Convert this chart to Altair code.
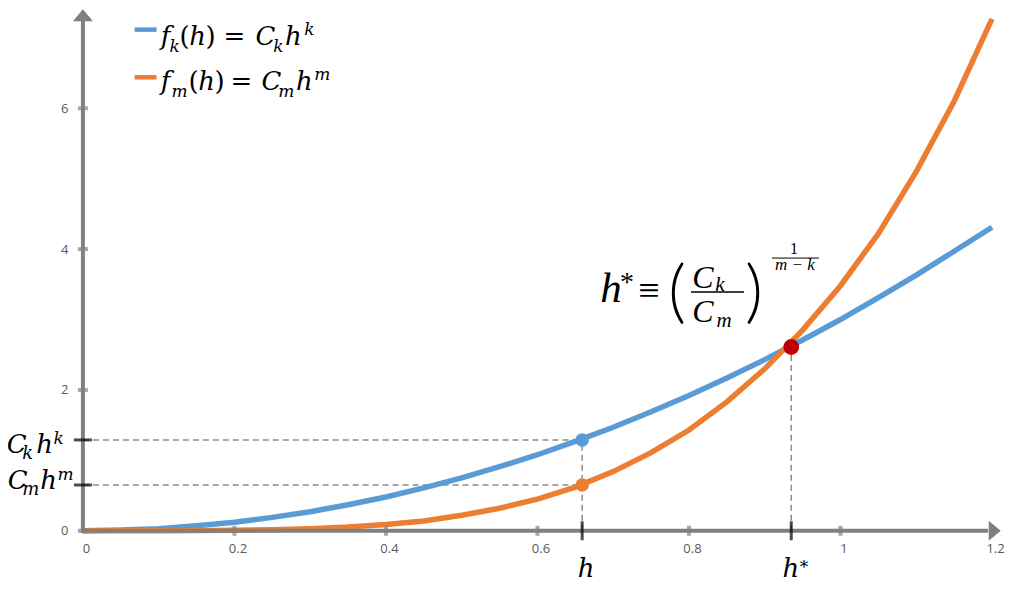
import altair as alt
import pandas as pd

# ---------------- values ----------------
h_values = [0, 0.05, 0.1, 0.15, 0.2, 0.25, 0.3, 0.35, 0.4, 0.45, 0.5, 0.55, 0.6,
            0.65, 0.7, 0.75, 0.8, 0.85, 0.9, 0.95, 1.0, 1.05, 1.1, 1.15, 1.2]
fk_values = [0, 0.01, 0.03, 0.07, 0.12, 0.19, 0.27, 0.37, 0.48, 0.61, 0.75, 0.91, 1.08,
             1.27, 1.47, 1.69, 1.92, 2.17, 2.43, 2.71, 3.0, 3.31, 3.63, 3.97, 4.31]
fm_values = [0, 0, 0, 0.002, 0.006, 0.014, 0.028, 0.053, 0.09, 0.14, 0.22, 0.32, 0.45,
             0.62, 0.84, 1.11, 1.43, 1.83, 2.30, 2.85, 3.48, 4.22, 5.10, 6.10, 7.27]
x_tick_values = [0, 0.2, 0.4, 0.6, 0.8, 1.0, 1.2]
y_tick_values = [0, 2, 4, 6]
h_point = 0.659
fk_at_h = 1.29
fm_at_h = 0.65
h_star = 0.935
f_at_h_star = 2.61

BLUE = "#5B9BD5"
ORANGE = "#ED7D31"
RED = "#C00000"
AXIS_GRAY = "#808080"
DASH_GRAY = "#8C8C8C"

xs = alt.Scale(domain=[0, 1.2], nice=False, zero=False)
ys = alt.Scale(domain=[0, 7.42], nice=False, zero=False)

x_axis = alt.Axis(values=x_tick_values, format=".1~f", domain=False, ticks=False, grid=False,
                  labelPadding=12, labelOffset=3, labelFlush=False, labelOverlap=False,
                  labelFont="Open Sans", labelFontSize=13, labelColor="#595959", title=None)
y_axis = alt.Axis(values=y_tick_values, format="d", domain=False, ticks=False, grid=False,
                  labelPadding=15, labelFlush=False, labelOverlap=False,
                  labelFont="Open Sans", labelFontSize=13, labelColor="#595959", title=None)


def X(field):
    return alt.X(f"{field}:Q", scale=xs, axis=x_axis)


def Y(field):
    return alt.Y(f"{field}:Q", scale=ys, axis=y_axis)


curve_df = pd.DataFrame({"x": h_values, "fk": fk_values, "fm": fm_values})

# ---------------- axes drawn as marks ----------------
axis_lines = pd.DataFrame({"x": [0, 0], "x2": [1.195, 0], "y": [0, -0.03], "y2": [0, 7.25]})
axis_layer = alt.Chart(axis_lines).mark_rule(color=AXIS_GRAY, strokeWidth=4).encode(
    x=X("x"), x2="x2:Q", y=Y("y"), y2="y2:Q")

arrow_x = alt.Chart(pd.DataFrame({"x": [1.2036], "y": [0]})).mark_point(
    shape="M-0.6,-1L0.6,0L-0.6,1Z", size=400, filled=True, opacity=1, color=AXIS_GRAY,
    strokeWidth=0).encode(x=X("x"), y=Y("y"))
arrow_y = alt.Chart(pd.DataFrame({"x": [0], "y": [7.32]})).mark_point(
    shape="M-1,0.6L0,-0.6L1,0.6Z", size=400, filled=True, opacity=1, color=AXIS_GRAY,
    strokeWidth=0).encode(x=X("x"), y=Y("y"))

xt = pd.DataFrame({"x": x_tick_values[1:-1], "y": [0] * 5})
yt = pd.DataFrame({"x": [0] * 4, "y": y_tick_values})
xtick_layer = alt.Chart(xt).mark_tick(orient="vertical", size=10, thickness=4,
                                      color=AXIS_GRAY).encode(x=X("x"), y=Y("y"))
ytick_layer = alt.Chart(yt).mark_tick(orient="horizontal", size=10, thickness=4,
                                      color=AXIS_GRAY).encode(x=X("x"), y=Y("y"))

# ---------------- guide lines ----------------
dash_df = pd.DataFrame({
    "x": [0, 0, h_point, h_star],
    "x2": [h_point, h_point, h_point, h_star],
    "y": [fk_at_h, fm_at_h, 0, 0],
    "y2": [fk_at_h, fm_at_h, fk_at_h, f_at_h_star],
})
dash_layer = alt.Chart(dash_df).mark_rule(color=DASH_GRAY, strokeWidth=1.5,
                                          strokeDash=[6, 4]).encode(
    x=X("x"), x2="x2:Q", y=Y("y"), y2="y2:Q")

bx = pd.DataFrame({"x": [h_point, h_star], "y": [0, 0]})
by = pd.DataFrame({"x": [0, 0], "y": [fk_at_h, fm_at_h]})
btick_x = alt.Chart(bx).mark_tick(orient="vertical", size=19, thickness=3,
                                  color="black").encode(x=X("x"), y=Y("y"))
btick_y = alt.Chart(by).mark_tick(orient="horizontal", size=18, thickness=3,
                                  color="black").encode(x=X("x"), y=Y("y"))

# ---------------- curves ----------------
blue_line = alt.Chart(curve_df).mark_line(color=BLUE, strokeWidth=5.5).encode(x=X("x"), y=Y("fk"))
orange_line = alt.Chart(curve_df).mark_line(color=ORANGE, strokeWidth=5.5).encode(x=X("x"), y=Y("fm"))

dots_df = pd.DataFrame({"x": [h_point, h_point], "y": [fk_at_h, fm_at_h], "c": [BLUE, ORANGE]})
dots = alt.Chart(dots_df).mark_point(filled=True, opacity=1, size=180, strokeWidth=0).encode(
    x=X("x"), y=Y("y"), color=alt.Color("c:N", scale=None))
red_dot = alt.Chart(pd.DataFrame({"x": [h_star], "y": [f_at_h_star]})).mark_point(
    filled=True, opacity=1, size=250, color=RED, strokeWidth=0).encode(x=X("x"), y=Y("y"))

# ---------------- legend ----------------
leg_df = pd.DataFrame({"x": [0.0682, 0.0682], "x2": [0.0972, 0.0972], "y": [7.117, 6.44],
                       "c": [BLUE, ORANGE]})
leg_lines = alt.Chart(leg_df).mark_rule(strokeWidth=4.5).encode(
    x=X("x"), x2="x2:Q", y=Y("y"), color=alt.Color("c:N", scale=None))

# text pieces: (text, x, y, size)
cam_italic = [
    # legend row 1
    ("f", 0.1091, 6.895, 26), ("k", 0.1209, 6.795, 17), ("h", 0.1513, 6.895, 26),
    ("C", 0.2409, 6.895, 26), ("k", 0.2580, 6.795, 17), ("h", 0.2778, 6.895, 26),
    ("k", 0.2990, 7.037, 17),
    # legend row 2
    ("f", 0.1091, 6.256, 26), ("m", 0.1275, 6.157, 17), ("h", 0.1631, 6.256, 26),
    ("C", 0.2488, 6.256, 26), ("m", 0.2686, 6.157, 17), ("h", 0.2924, 6.256, 26),
    ("m", 0.3161, 6.398, 17),
    # y-axis labels
    ("C", -0.0874, 1.107, 26), ("k", -0.0729, 1.021, 18), ("h", -0.0505, 1.107, 26),
    ("k", -0.0320, 1.234, 17),
    ("C", -0.0861, 0.596, 26), ("m", -0.0690, 0.511, 18), ("h", -0.0452, 0.596, 26),
    ("m", -0.0229, 0.724, 17),
    # x-axis labels
    ("h", 0.6643, -0.6526, 26), ("h", 0.9346, -0.6526, 26),
]
cam_upright = [
    ("(", 0.1341, 6.895, 26), (")", 0.1684, 6.895, 26), ("=", 0.2000, 6.895, 26),
    ("(", 0.1460, 6.256, 26), (")", 0.1803, 6.256, 26), ("=", 0.2093, 6.256, 26),
    ("*", 0.9517, -0.596, 17),
]
tex_italic = [
    ("h", 0.6972, 3.249, 43), ("C", 0.8185, 3.447, 32), ("k", 0.8409, 3.405, 21),
    ("C", 0.8185, 2.965, 32), ("m", 0.8462, 2.894, 21),
    ("m \u2212 k", 0.9399, 3.703, 17),
]
tex_upright = [
    ("*", 0.7183, 3.405, 28), ("\u2261", 0.7473, 3.240, 38), ("1", 0.9386, 3.929, 16),
]
parens = [("(", 0.7843, 3.064, 70), (")", 0.8858, 3.064, 70)]


def text_layer(rows, font, style, weight="normal"):
    df = pd.DataFrame(rows, columns=["t", "x", "y", "s"])
    return alt.Chart(df).mark_text(font=font, fontStyle=style, fontWeight=weight, align="center",
                                   baseline="alphabetic", color="black").encode(
        x=X("x"), y=Y("y"), text="t:N", size=alt.Size("s:Q", scale=None, legend=None))


frac_df = pd.DataFrame({"x": [0.8027, 0.9095], "x2": [0.8726, 0.9715], "y": [3.391, 3.873],
                        "w": [1.6, 1.0]})
frac_layer = alt.Chart(frac_df).mark_rule(color="black").encode(
    x=X("x"), x2="x2:Q", y=Y("y"), strokeWidth=alt.StrokeWidth("w:Q", scale=None, legend=None))

chart = alt.layer(
    dash_layer, blue_line, orange_line, axis_layer, arrow_x, arrow_y, xtick_layer, ytick_layer,
    btick_x, btick_y, dots, red_dot, leg_lines,
    text_layer(cam_italic, "DejaVu Serif", "italic"),
    text_layer(cam_upright, "DejaVu Serif", "normal"),
    text_layer(tex_italic, "Liberation Serif", "italic"),
    text_layer(tex_upright, "Liberation Serif", "normal"),
    text_layer(parens, "Lato", "normal", 300),
    frac_layer,
).properties(
    width=910, height=523,
    autosize=alt.AutoSizeParams(type="none"),
    padding={"left": 75, "top": 0, "right": 14, "bottom": 53},
).configure_view(stroke=None)

chart.save("out.html", embed_options={"renderer": "svg", "actions": False})
